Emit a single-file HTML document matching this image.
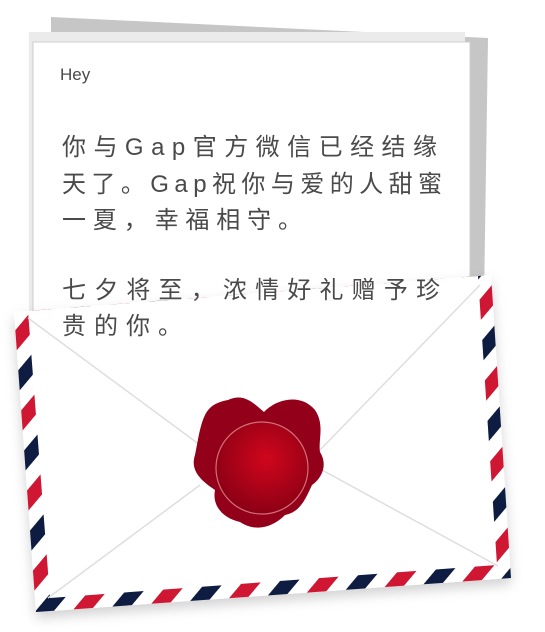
<!DOCTYPE html>
<html><head><meta charset="utf-8"><style>
html,body{margin:0;padding:0;background:#fff;}
svg{display:block}
text{font-family:"Liberation Sans","Noto Sans CJK SC",sans-serif;fill:#4a4a4a;}
</style></head><body>
<svg width="545" height="632" viewBox="0 0 545 632">
<defs>
<pattern id="stripes" width="56" height="56" patternUnits="userSpaceOnUse" patternTransform="rotate(40)">
<rect x="0" y="0" width="14" height="56" fill="#cf1330"/>
<rect x="14" y="0" width="14" height="56" fill="#fff"/>
<rect x="28" y="0" width="14" height="56" fill="#0d1a3f"/>
<rect x="42" y="0" width="14" height="56" fill="#fff"/>
</pattern>
<radialGradient id="sealg" cx="0.55" cy="0.4" r="0.6">
<stop offset="0" stop-color="#d0061c"/><stop offset="1" stop-color="#8c0015"/>
</radialGradient>
<filter id="sh" x="-10%" y="-10%" width="120%" height="130%"><feDropShadow dx="0" dy="6" stdDeviation="6" flood-color="#000" flood-opacity="0.18"/></filter>
</defs>
<polygon points="51,17 488,38 484,300 51,300" fill="#c6c6c6"/>
<rect x="29" y="32" width="436" height="360" fill="#ebebeb"/>
<rect x="33" y="42" width="437" height="350" fill="#fff" stroke="#cccccc" stroke-width="1"/>
<g filter="url(#sh)">
<polygon points="14,312 491,275 511,578 36,612" fill="url(#stripes)"/>
<polygon points="28,311 478,276 497,565 50,598" fill="#fff"/>
</g>
<g stroke="#dedede" stroke-width="1.5" fill="none">
<line x1="28" y1="318" x2="200" y2="445"/>
<line x1="480" y1="285" x2="320" y2="450"/>
<line x1="48" y1="598" x2="200" y2="485"/>
<line x1="498" y1="566" x2="322" y2="470"/>
</g>
<text x="60" y="80" font-size="17">Hey</text>
<g font-size="24">
<text x="62" y="155" textLength="375" lengthAdjust="spacing">你与Gap官方微信已经结缘</text>
<text x="62" y="192" textLength="380" lengthAdjust="spacing">天了。Gap祝你与爱的人甜蜜</text>
<text x="62" y="228" textLength="240" lengthAdjust="spacing">一夏，幸福相守。</text>
<text x="62" y="298" textLength="378" lengthAdjust="spacing">七夕将至，浓情好礼赠予珍</text>
<text x="62" y="334" textLength="120" lengthAdjust="spacing">贵的你。</text>
</g>
<g>
<path d="M228,400 C245,392 255,405 264,412 C275,400 300,392 315,410 C325,425 318,440 320,452 C328,465 322,478 312,485 C305,500 300,512 285,515 C272,528 255,532 240,522 C222,518 212,505 215,490 C200,480 190,470 195,455 C198,440 200,425 205,415 C210,405 218,402 228,400 Z" fill="#93001a"/>
<circle cx="262" cy="468" r="46" fill="url(#sealg)" stroke="#f0a0a0" stroke-width="1.2" stroke-opacity="0.7"/>
</g>
</svg>
</body></html>
